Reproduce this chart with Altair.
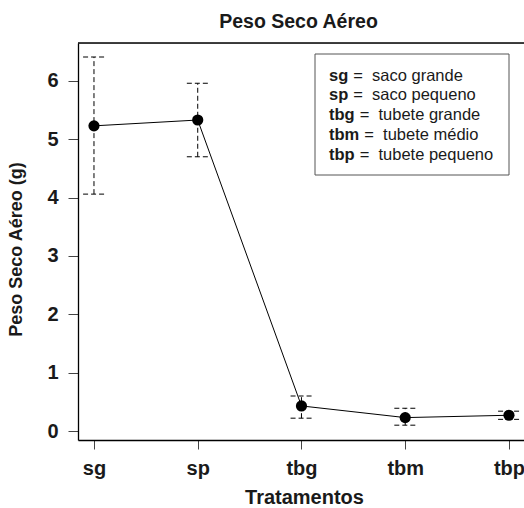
import altair as alt
import pandas as pd

# ---- data ----
categories = ["sg", "sp", "tbg", "tbm", "tbp"]
means = [5.23, 5.33, 0.43, 0.23, 0.27]
lower = [4.06, 4.70, 0.22, 0.10, 0.20]
upper = [6.41, 5.96, 0.60, 0.39, 0.34]
y_ticks = [0, 1, 2, 3, 4, 5, 6]
legend_keys = ["sg", "sp", "tbg", "tbm", "tbp"]
legend_desc = ["saco grande", "saco pequeno", "tubete grande", "tubete médio", "tubete pequeno"]

FONT = "Liberation Sans"
INK = "#1a1a1a"
NB = "\u00a0"

positions = list(range(1, len(categories) + 1))
df = pd.DataFrame({"pos": positions, "cat": categories, "mean": means, "lo": lower, "hi": upper})

label_expr = "[" + ",".join("'%s'" % c for c in categories) + "][datum.value - 1]"

x_scale = alt.Scale(domain=[0.846, 5.145], nice=False, zero=False)
y_scale = alt.Scale(domain=[-0.154, 6.65], nice=False, zero=False)

x_axis = alt.Axis(
    values=positions, labelExpr=label_expr, title="Tratamentos",
    tickSize=9, labelPadding=25, labelBaseline="alphabetic", labelFlush=False,
    labelOverlap=False, labelFontSize=20, labelFontWeight="bold", labelFont=FONT,
    labelColor=INK, titleFont=FONT, titleFontSize=20, titleFontWeight="bold",
    titleColor=INK, titleBaseline="alphabetic", titleX=226, titleY=63,
    grid=False, domainColor="black", domainWidth=1.3, tickColor="#444", tickWidth=1,
)
y_axis = alt.Axis(
    values=y_ticks, title="Peso Seco Aéreo (g)", tickSize=10, labelPadding=10,
    labelFontSize=20, labelFontWeight="bold", labelFont=FONT, labelColor=INK,
    labelBaseline="middle", labelFlush=False,
    titleFont=FONT, titleFontSize=18, titleFontWeight="bold", titleColor=INK,
    titleBaseline="alphabetic", titleAlign="center", titleX=-57, titleY=206, titleAngle=270,
    grid=False, domainColor="black", domainWidth=1.3, tickColor="#444", tickWidth=1,
)

base = alt.Chart(df)

line = base.mark_line(color="black", strokeWidth=1).encode(
    x=alt.X("pos:Q", scale=x_scale, axis=x_axis),
    y=alt.Y("mean:Q", scale=y_scale, axis=y_axis),
)

vbars = base.mark_rule(color="black", strokeWidth=1, strokeDash=[5, 3]).encode(
    x=alt.X("pos:Q", scale=x_scale, axis=x_axis),
    y=alt.Y("lo:Q", scale=y_scale, axis=y_axis),
    y2="hi:Q",
)

caps = base.transform_fold(["lo", "hi"], as_=["end", "val"]).transform_calculate(
    xl="datum.pos - 0.105", xr="datum.pos + 0.105"
).mark_rule(color="black", strokeWidth=1, strokeDash=[5, 3]).encode(
    x=alt.X("xl:Q", scale=x_scale, axis=x_axis),
    x2="xr:Q",
    y=alt.Y("val:Q", scale=y_scale, axis=y_axis),
)

points = base.mark_point(filled=True, size=125, color="black", opacity=1).encode(
    x=alt.X("pos:Q", scale=x_scale, axis=x_axis),
    y=alt.Y("mean:Q", scale=y_scale, axis=y_axis),
)

# top edge of the plot frame
frame_top = alt.Chart(pd.DataFrame({"a": [0]})).mark_rule(color="black", strokeWidth=1.3).encode(
    x=alt.value(0), x2=alt.value(446), y=alt.value(0)
)

# ---- legend box (text key) ----
leg = pd.DataFrame({"key": legend_keys, "desc": ["=" + NB + NB + d for d in legend_desc],
                    "row": list(range(len(legend_keys)))})
bold_w = {"s": 0.556, "g": 0.611, "p": 0.611, "t": 0.333, "b": 0.611, "m": 0.889}
LEG_FS = 16.5
leg["kw"] = [sum(bold_w.get(ch, 0.6) for ch in k) * LEG_FS for k in legend_keys]

leg_base = alt.Chart(leg).transform_calculate(py="37.5 + 19.8 * datum.row")

leg_rect = alt.Chart(pd.DataFrame({"a": [0]})).mark_rect(
    fill="white", stroke="#555", strokeWidth=1
).encode(x=alt.value(237), x2=alt.value(431), y=alt.value(11), y2=alt.value(132))

leg_keys = leg_base.mark_text(
    align="left", baseline="alphabetic", font=FONT, fontSize=LEG_FS, fontWeight="bold", color=INK
).encode(x=alt.value(251), y=alt.Y("py:Q", scale=None), text="key:N")

leg_desc = leg_base.transform_calculate(px="251 + datum.kw + 5").mark_text(
    align="left", baseline="alphabetic", font=FONT, fontSize=LEG_FS, color=INK
).encode(x=alt.X("px:Q", scale=None), y=alt.Y("py:Q", scale=None), text="desc:N")

chart = alt.layer(line, vbars, caps, points, frame_top, leg_rect, leg_keys, leg_desc).properties(
    width=446, height=397,
    title=alt.TitleParams("Peso Seco Aéreo", font=FONT, fontSize=19.5, fontWeight="bold",
                          color=INK, anchor="middle", baseline="alphabetic", offset=-5, dx=-2.5),
    autosize=alt.AutoSizeParams(type="none"),
    padding={"left": 78, "top": 43, "right": 0, "bottom": 68},
).configure_view(stroke=None).configure(background="white")

chart.save("out.html", embed_options={"renderer": "svg", "actions": False})
